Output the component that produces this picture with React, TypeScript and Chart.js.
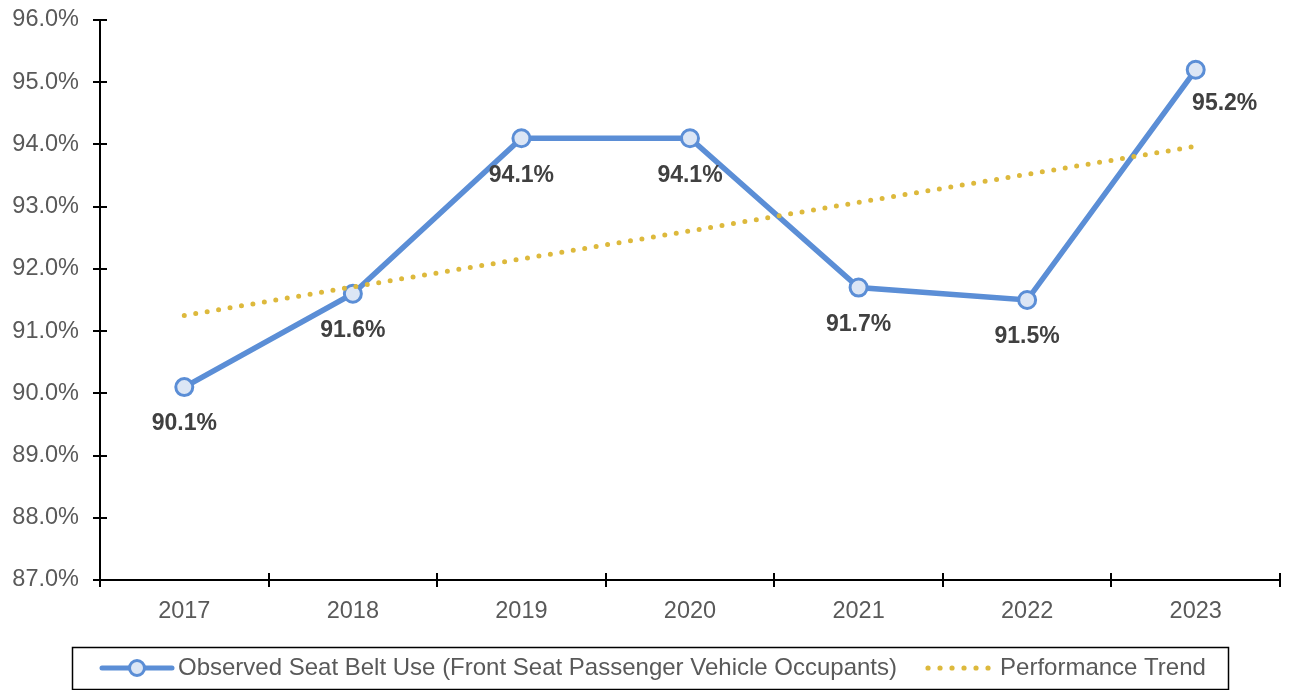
import React, { useEffect, useRef } from "react";
import { Chart, registerables } from "chart.js";

Chart.register(...registerables);

const categories = ["2017", "2018", "2019", "2020", "2021", "2022", "2023"];
const seatBeltUse = [90.1, 91.6, 94.1, 94.1, 91.7, 91.5, 95.2];
const performanceTrend = [91.25, 91.71, 92.16, 92.61, 93.07, 93.52, 93.97];
const yMin = 87;
const yMax = 96;
const yStep = 1;
const seriesNames = [
  "Observed Seat Belt Use (Front Seat Passenger Vehicle Occupants)",
  "Performance Trend",
];

const BLUE = "#5B8ED6";
const GOLD = "#DDB93C";
const FONT = "'Liberation Sans', Arial, sans-serif";

const crossTicks = {
  id: "crossTicks",
  afterDatasetsDraw(chart: any) {
    const { ctx } = chart;
    const x = chart.scales.x;
    const y = chart.scales.y;
    ctx.save();
    ctx.strokeStyle = "#000";
    ctx.lineWidth = 2;
    const n = x.ticks.length;
    for (let i = 0; i <= n; i++) {
      const px = Math.round(x.left + (i * (x.right - x.left)) / n);
      ctx.beginPath();
      ctx.moveTo(px, x.top);
      ctx.lineTo(px, x.top - 7);
      ctx.stroke();
    }
    y.ticks.forEach((t: any) => {
      const py = Math.round(y.getPixelForValue(t.value));
      ctx.beginPath();
      ctx.moveTo(y.right, py);
      ctx.lineTo(y.right + 7, py);
      ctx.stroke();
    });
    ctx.restore();
  },
};

const dataLabels = {
  id: "dataLabels",
  afterDatasetsDraw(chart: any) {
    const { ctx } = chart;
    const meta = chart.getDatasetMeta(1);
    const ds = chart.data.datasets[1];
    ctx.save();
    ctx.font = `bold 23px ${FONT}`;
    ctx.fillStyle = "#404040";
    ctx.textAlign = "center";
    ctx.textBaseline = "middle";
    meta.data.forEach((pt: any, i: number) => {
      const last = i === meta.data.length - 1;
      const dx = last ? 29 : 0;
      const dy = last ? 34 : 37;
      ctx.fillText(ds.data[i].toFixed(1) + "%", pt.x + dx, pt.y + dy);
    });
    ctx.restore();
  },
};

const boxLegend = {
  id: "boxLegend",
  afterDraw(chart: any) {
    const { ctx } = chart;
    const boxL = 72, boxT = 647, boxW = 1156, boxH = 42;
    ctx.save();
    ctx.strokeStyle = "#000";
    ctx.lineWidth = 1.5;
    ctx.strokeRect(boxL + 0.5, boxT + 0.5, boxW, boxH);
    ctx.font = `24px ${FONT}`;
    ctx.textBaseline = "middle";
    ctx.fillStyle = "#595959";
    const cy = boxT + 21;
    const w1 = ctx.measureText(seriesNames[0]).width;
    const s1 = 70, g1 = 6, gap = 28, s2 = 67, g2 = 8;
    let x = boxL + 30;
    ctx.strokeStyle = BLUE;
    ctx.lineWidth = 5;
    ctx.lineCap = "round";
    ctx.beginPath();
    ctx.moveTo(x, cy);
    ctx.lineTo(x + s1, cy);
    ctx.stroke();
    ctx.beginPath();
    ctx.arc(x + s1 / 2, cy, 7.5, 0, Math.PI * 2);
    ctx.fillStyle = "#DCE6F5";
    ctx.fill();
    ctx.lineWidth = 3;
    ctx.stroke();
    x += s1 + g1;
    ctx.fillStyle = "#595959";
    ctx.fillText(seriesNames[0], x, cy);
    x += w1 + gap;
    ctx.fillStyle = GOLD;
    for (let i = 0; i < 6; i++) {
      ctx.beginPath();
      ctx.arc(x + 3 + i * 12, cy, 2.6, 0, Math.PI * 2);
      ctx.fill();
    }
    x += s2 + g2;
    ctx.fillStyle = "#595959";
    ctx.fillText(seriesNames[1], x, cy);
    ctx.restore();
  },
};

export default function App() {
  const ref = useRef<HTMLCanvasElement | null>(null);
  useEffect(() => {
    document.body.style.margin = "0";
    const chart = new Chart(ref.current!, {
      type: "line",
      data: {
        labels: categories,
        datasets: [
          {
            label: seriesNames[1],
            data: performanceTrend,
            borderColor: GOLD,
            borderWidth: 5,
            borderDash: [0, 11.6],
            borderCapStyle: "round",
            pointRadius: 0,
            fill: false,
            tension: 0,
            order: 0,
          },
          {
            label: seriesNames[0],
            data: seatBeltUse,
            borderColor: BLUE,
            borderWidth: 5.5,
            pointRadius: 8.5,
            pointBorderWidth: 3,
            pointBackgroundColor: "#DCE6F5",
            pointBorderColor: BLUE,
            fill: false,
            tension: 0,
            order: 1,
          },
        ],
      },
      options: {
        responsive: true,
        maintainAspectRatio: false,
        animation: false,
        layout: { padding: { top: 20, right: 16, bottom: 50, left: 0 } },
        plugins: { legend: { display: false }, tooltip: { enabled: false } },
        scales: {
          x: {
            offset: true,
            afterFit: (s: any) => { s.height = 60; s.paddingLeft = 0; s.paddingRight = 0; },
            grid: {
              offset: true,
              drawOnChartArea: false,
              color: "#000",
              lineWidth: 2,
              tickLength: 7,
              tickColor: "#000",
            },
            border: { color: "#000", width: 2 },
            ticks: { color: "#595959", font: { size: 23.5, family: FONT }, padding: 10 },
          },
          y: {
            min: yMin,
            max: yMax,
            afterFit: (s: any) => { s.width = 100; s.paddingTop = 0; s.paddingBottom = 0; },
            grid: {
              drawOnChartArea: false,
              color: "#000",
              lineWidth: 2,
              tickLength: 7,
              tickColor: "#000",
            },
            border: { color: "#000", width: 2 },
            ticks: {
              stepSize: yStep,
              color: "#595959",
              font: { size: 23.5, family: FONT },
              padding: 14,
              callback: (v: any) => Number(v).toFixed(1) + "%",
            },
          },
        },
      },
      plugins: [crossTicks, dataLabels, boxLegend],
    });
    return () => chart.destroy();
  }, []);
  return (
    <div style={{ width: 1296, height: 690, position: "relative" }}>
      <canvas ref={ref} />
    </div>
  );
}
